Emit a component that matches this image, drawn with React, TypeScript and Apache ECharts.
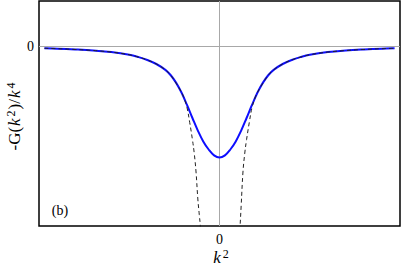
import React, { useEffect, useRef } from "react";
import * as echarts from "echarts";

// Blue curve (x = k^2 in relative units, y in relative units)
const blueX = [-0.97, -0.9, -0.8, -0.7, -0.6, -0.5, -0.45, -0.4, -0.35, -0.3, -0.27, -0.24, -0.21, -0.18, -0.15, -0.12, -0.09, -0.06, -0.03, 0, 0.03, 0.06, 0.09, 0.12, 0.15, 0.18, 0.21, 0.24, 0.27, 0.3, 0.35, 0.4, 0.45, 0.5, 0.6, 0.7, 0.8, 0.9, 0.97];
const blueY = [-0.051, -0.06, -0.077, -0.1, -0.135, -0.195, -0.245, -0.31, -0.4, -0.53, -0.65, -0.82, -1.04, -1.31, -1.6, -1.88, -2.12, -2.3, -2.43, -2.48, -2.43, -2.3, -2.12, -1.88, -1.6, -1.31, -1.04, -0.82, -0.65, -0.53, -0.4, -0.31, -0.245, -0.195, -0.135, -0.1, -0.077, -0.06, -0.051];

// Dashed asymptotic curve (left branch, then right branch)
const dashX = [-0.97, -0.9, -0.8, -0.7, -0.6, -0.5, -0.45, -0.4, -0.35, -0.3, -0.27, -0.24, -0.22, -0.2, -0.18, -0.165, -0.15, -0.14, -0.13, -0.12, -0.112, -0.106, -0.1, 0.108, 0.114, 0.12, 0.13, 0.14, 0.15, 0.165, 0.18, 0.2, 0.22, 0.24, 0.27, 0.3, 0.35, 0.4, 0.45, 0.5, 0.6, 0.7, 0.8, 0.9, 0.97];
const dashY = [-0.051, -0.06, -0.077, -0.1, -0.135, -0.195, -0.245, -0.31, -0.4, -0.53, -0.65, -0.83, -0.96, -1.12, -1.37, -1.7, -2.08, -2.38, -2.8, -3.4, -3.75, -4.0, -4.4, -4.4, -4.0, -3.55, -2.8, -2.38, -2.08, -1.7, -1.37, -1.12, -0.96, -0.83, -0.65, -0.53, -0.4, -0.31, -0.245, -0.195, -0.135, -0.1, -0.077, -0.06, -0.051];

const xTicks = [0];
const yTicks = [0];

const SERIF = "Liberation Serif";

export default function App() {
  const ref = useRef<HTMLDivElement>(null);
  useEffect(() => {
    if (!ref.current) return;
    const chart = echarts.init(ref.current, undefined, { renderer: "svg" });
    const blueData = blueX.map((x, i) => [x, blueY[i]]);
    const dashData = dashX.map((x, i) => [x, dashY[i]]);
    chart.setOption({
      animation: false,
      grid: {
        left: 39,
        right: 3,
        top: 1,
        bottom: 49,
        show: true,
        borderColor: "#000",
        borderWidth: 1.5,
        backgroundColor: "transparent",
      },
      xAxis: {
        type: "value",
        min: -1,
        max: 1,
        axisLine: { show: false },
        splitLine: { show: false },
        axisTick: { show: true, inside: true, length: 4, customValues: xTicks, lineStyle: { color: "#000", width: 1 } },
        axisLabel: { show: true, customValues: xTicks, margin: 6, fontSize: 14, fontFamily: SERIF, color: "#000" },
      },
      yAxis: {
        type: "value",
        min: -4,
        max: 1,
        axisLine: { show: false },
        splitLine: { show: false },
        axisTick: { show: true, inside: true, length: 4, customValues: yTicks, lineStyle: { color: "#000", width: 1 } },
        axisLabel: { show: true, customValues: yTicks, margin: 5, fontSize: 14, fontFamily: SERIF, color: "#000" },
      },
      series: [
        {
          type: "line",
          data: [],
          z: 1,
          silent: true,
          markLine: {
            z: 1,
            silent: true,
            symbol: ["none", "none"],
            label: { show: false },
            lineStyle: { color: "#a8a8a8", width: 1, type: "solid" },
            data: [{ xAxis: 0 }, { yAxis: 0 }],
          },
        },
        {
          type: "line",
          data: blueData,
          z: 3,
          smooth: 0.4,
          showSymbol: false,
          symbol: "none",
          lineStyle: { color: "#0d0dff", width: 2 },
        },
        {
          type: "line",
          data: dashData,
          z: 4,
          smooth: 0.4,
          showSymbol: false,
          symbol: "none",
          clip: true,
          lineStyle: { color: "#222", width: 1, type: [4, 3] },
        },
      ],
      graphic: [
        {
          type: "text",
          x: 14,
          y: 116,
          rotation: Math.PI / 2,
          style: {
            text: "{n|-G(}{i|k}{s|2}{n|)/}{i|k}{s|4}",
            align: "center",
            verticalAlign: "middle",
            fill: "#000",
            rich: {
              n: { fontFamily: SERIF, fontSize: 17, lineHeight: 19, verticalAlign: "middle", fill: "#000" },
              i: { fontFamily: SERIF, fontSize: 17, fontStyle: "italic", lineHeight: 19, verticalAlign: "middle", fill: "#000", padding: [0, 1, 0, 1] },
              s: { fontFamily: SERIF, fontSize: 12, lineHeight: 12, verticalAlign: "top", fill: "#000", padding: [0, 1, 0, 1] },
            },
          },
        },
        {
          type: "text",
          x: 221,
          y: 257,
          style: {
            text: "{i|k}{s|2}",
            align: "center",
            verticalAlign: "middle",
            fill: "#000",
            rich: {
              i: { fontFamily: SERIF, fontSize: 17, fontStyle: "italic", lineHeight: 19, verticalAlign: "middle", fill: "#000" },
              s: { fontFamily: SERIF, fontSize: 12, lineHeight: 12, verticalAlign: "top", fill: "#000", padding: [0, 0, 0, 2] },
            },
          },
        },
        {
          type: "text",
          x: 60,
          y: 210,
          style: {
            text: "(b)",
            align: "center",
            verticalAlign: "middle",
            fontFamily: SERIF,
            fontSize: 14,
            fill: "#000",
          },
        },
      ],
    });
    return () => chart.dispose();
  }, []);
  return <div ref={ref} style={{ width: 403, height: 275, position: "absolute", left: 0, top: 0 }} />;
}
